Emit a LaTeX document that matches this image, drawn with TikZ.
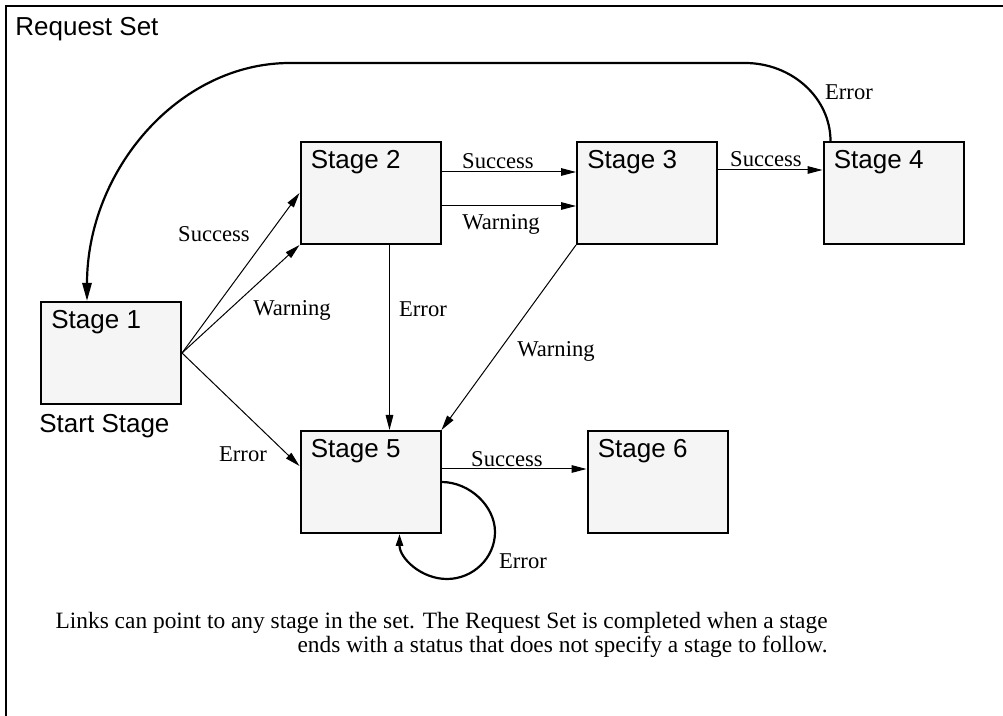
\documentclass[tikz,border=0pt]{standalone}
\usepackage{fontspec}
\setmainfont{Liberation Serif}
\setsansfont{Liberation Sans}
\usetikzlibrary{arrows.meta, calc}

\begin{document}
\begin{tikzpicture}[
    x=0.5pt, y=-0.5pt,
    stage/.style={draw, line width=1pt, fill=black!4, minimum width=70pt,
        minimum height=51pt, inner sep=0pt},
    stagetxt/.style={font=\sffamily\fontsize{13pt}{15pt}\selectfont, inner sep=0pt},
    cond/.style={font=\fontsize{11.3pt}{13pt}\selectfont, inner sep=0pt},
    note/.style={font=\fontsize{11.7pt}{13pt}\selectfont, inner sep=0pt},
    link/.style={-{Triangle[length=7.5pt, width=3.8pt]}, line width=0.5pt},
    backlink/.style={-{Triangle[length=9pt, width=4.6pt]}, line width=1.1pt},
    looplink/.style={-{Triangle[length=6pt, width=3.6pt]}, line width=1.1pt},
]
\useasboundingbox (0,0) rectangle (1003,716);
\draw[line width=1.2pt] (6,6) rectangle (1030,760);

% stages
\node[stage] (s1) at (111,353) {};
\node[stage] (s2) at (370.5,193) {};
\node[stage] (s3) at (647,193) {};
\node[stage] (s4) at (893.5,193) {};
\node[stage] (s5) at (370.5,482) {};
\node[stage] (s6) at (657.5,482) {};

\foreach \n in {1,...,6}
    \node[stagetxt, anchor=base west] (t\n) at ($(s\n.north west)+(11,28)$) {Stage \n};

\node[stagetxt, anchor=base west] (title) at (15,36) {Request Set};
\node[stagetxt, anchor=base west] (start) at ($(s1.south west)+(-1,28)$) {Start Stage};

% out of stage 1
\draw[link] (s1.east) -- (s2.west);
\draw[link] (s1.east) -- (s2.south west);
\draw[link] (s1.east) -- ($(s5.north west)+(0,36)$);

% top row
\draw[link] ($(s2.north east)+(0,31)$) -- ($(s3.north west)+(0,31)$);
\draw[link] ($(s2.north east)+(0,65)$) -- ($(s3.north west)+(0,65)$);
\draw[link] ($(s3.north east)+(0,29)$) -- ($(s4.north west)+(0,29)$);

% down to stage 5
\draw[link] ($(s2.south west)+(90,0)$) -- ($(s5.north west)+(90,0)$);
\draw[link] (s3.south west) -- (s5.north east);
\draw[link] ($(s5.north east)+(0,39)$) -- ($(s6.north west)+(0,39)$);

% error back to stage 1
\coordinate (tr) at (745,63);
\coordinate (tl) at (290,63);
\draw[backlink] ($(s4.north west)+(8,0)$) .. controls +(0,-43) and +(47,0) .. (tr)
    -- (tl) .. controls +(-112,0) and +(0,-130) .. ($(s1.north west)+(47,0)$);

% error loop on stage 5
\coordinate (lr) at (495,532);
\coordinate (lb) at (447,579);
\draw[looplink] (s5.east) .. controls +(28,0) and +(0,-26) .. (lr)
    .. controls +(0,26) and +(26,0) .. (lb)
    .. controls +(-26,0) and +(0,24) .. ($(s5.south west)+(100,0)$);

% conditions
\node[cond, anchor=base] (c12s) at (214,242) {Success};
\node[cond, anchor=base] (c12w) at (292,316) {Warning};
\node[cond, anchor=base] (c15e) at (243,462) {Error};
\node[cond, anchor=base] (c23s) at (498,169) {Success};
\node[cond, anchor=base] (c23w) at (501,230) {Warning};
\node[cond, anchor=base] (c34s) at (766,167) {Success};
\node[cond, anchor=base] (c41e) at (849,100) {Error};
\node[cond, anchor=base] (c25e) at (423,317) {Error};
\node[cond, anchor=base] (c35w) at (556,357) {Warning};
\node[cond, anchor=base] (c56s) at (507,467) {Success};
\node[cond, anchor=base] (c55e) at (523,569) {Error};

\node[note, anchor=base east] (n1) at (828,629)
    {Links can point to any stage in the set.  The Request Set is completed when a stage};
\node[note, anchor=base east] (n2) at (828,653)
    {ends with a status that does not specify a stage to follow.};

\end{tikzpicture}
\end{document}
